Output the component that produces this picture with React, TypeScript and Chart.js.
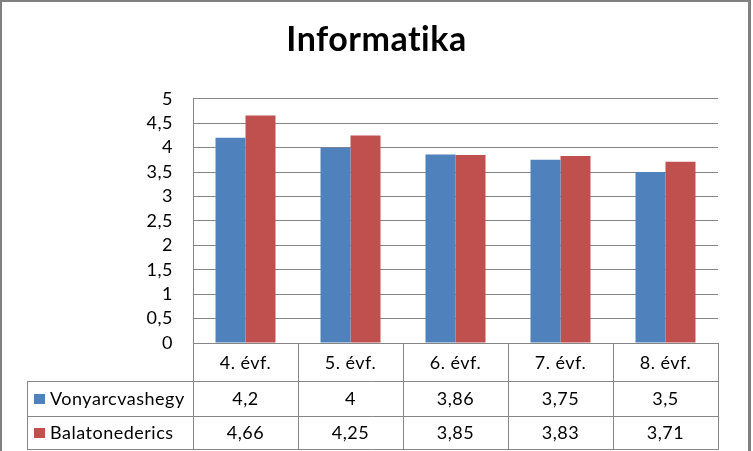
import React, { useEffect, useRef } from "react";
import { Chart, registerables } from "chart.js";

Chart.register(...registerables);

const TITLE = "Informatika";
const categories = ["4. évf.", "5. évf.", "6. évf.", "7. évf.", "8. évf."];
const seriesNames = ["Vonyarcvashegy", "Balatonederics"];
const vonyarcvashegy = [4.2, 4, 3.86, 3.75, 3.5];
const balatonederics = [4.66, 4.25, 3.85, 3.83, 3.71];
const seriesColors = ["#4F81BD", "#C0504D"];
const yMin = 0;
const yMax = 5;
const yStep = 0.5;

const FONT = "Lato, 'Open Sans', sans-serif";
const LINE = "#868686";
const TEXT_SIZE = 18;

const fmt = (v: number) => String(v).replace(".", ",");

const tablePlugin = {
  id: "dataTable",
  beforeDraw(chart: any) {
    const ctx = chart.ctx;
    ctx.fillStyle = "#ffffff";
    ctx.fillRect(0, 0, chart.width, chart.height);
    (ctx as any).letterSpacing = "0.5px";
  },
  afterDraw(chart: any) {
    const ctx = chart.ctx;
    const area = chart.chartArea;
    const n = categories.length;
    const cw = (area.right - area.left) / n;
    const rowTop = area.bottom;
    const row1 = rowTop + 38;
    const row2 = row1 + 35;
    const row3 = row2 + 33;
    const tableLeft = 27;
    const px = (v: number) => Math.round(v) + 0.5;

    ctx.save();
    ctx.strokeStyle = LINE;
    ctx.lineWidth = 1;
    ctx.beginPath();
    ctx.moveTo(area.left, px(rowTop));
    ctx.lineTo(area.right, px(rowTop));
    [row1, row2, row3].forEach((y) => {
      ctx.moveTo(tableLeft, px(y));
      ctx.lineTo(area.right + 0.5, px(y));
    });
    for (let i = 0; i <= n; i++) {
      const x = px(area.left + i * cw);
      ctx.moveTo(x, rowTop);
      ctx.lineTo(x, px(row3));
    }
    ctx.moveTo(px(tableLeft), row1);
    ctx.lineTo(px(tableLeft), px(row3));
    ctx.stroke();

    ctx.fillStyle = "#000";
    ctx.font = `${TEXT_SIZE}px ${FONT}`;
    ctx.textAlign = "center";
    ctx.textBaseline = "middle";
    const data = [vonyarcvashegy, balatonederics];
    for (let i = 0; i < n; i++) {
      const cx = chart.scales.x.getPixelForValue(i);
      ctx.fillText(categories[i], cx, (rowTop + row1) / 2 + 1);
      ctx.fillText(fmt(data[0][i]), cx, (row1 + row2) / 2 + 1);
      ctx.fillText(fmt(data[1][i]), cx, (row2 + row3) / 2 + 1);
    }
    const rows = [
      [row1, row2],
      [row2, row3],
    ];
    ctx.textAlign = "left";
    rows.forEach(([a, b], s) => {
      const cy = (a + b) / 2;
      ctx.fillStyle = seriesColors[s];
      ctx.fillRect(34, Math.round(cy - 5), 11, 10);
      ctx.fillStyle = "#000";
      ctx.fillText(seriesNames[s], 50, cy + 1);
    });

    ctx.fillStyle = "#808080";
    ctx.fillRect(0, 0, 2, chart.height);
    ctx.fillRect(0, 0, 751, 2);
    ctx.fillRect(748, 0, 3, chart.height);
    ctx.restore();
  },
};

export default function App() {
  const ref = useRef<HTMLCanvasElement | null>(null);
  useEffect(() => {
    if (!ref.current) return;
    const chart = new Chart(ref.current, {
      type: "bar",
      data: {
        labels: categories,
        datasets: [
          { label: seriesNames[0], data: vonyarcvashegy, backgroundColor: seriesColors[0] },
          { label: seriesNames[1], data: balatonederics, backgroundColor: seriesColors[1] },
        ],
      },
      options: {
        animation: false,
        responsive: false,
        devicePixelRatio: 1,
        layout: { padding: { top: 0, left: 0, right: 0, bottom: 108 } },
        datasets: { bar: { categoryPercentage: 60 / 105, barPercentage: 1 } },
        plugins: {
          legend: { display: false },
          tooltip: { enabled: false },
          title: {
            display: true,
            text: TITLE,
            color: "#000",
            font: { family: FONT, size: 34, weight: "bold" },
            padding: { top: 20, bottom: 38 },
          },
        },
        scales: {
          x: { display: false },
          y: {
            min: yMin,
            max: yMax,
            ticks: {
              stepSize: yStep,
              autoSkip: false,
              color: "#000",
              font: { family: FONT, size: TEXT_SIZE },
              padding: 20,
              callback: (v: any) => fmt(Number(v)),
            },
            grid: { color: LINE, drawTicks: false },
            border: { color: LINE },
            afterFit: (scale: any) => {
              scale.width = 193;
            },
          },
          yRight: {
            position: "right",
            display: true,
            min: yMin,
            max: yMax,
            grid: { display: false, drawTicks: false },
            border: { display: false },
            ticks: { display: false },
            afterFit: (scale: any) => {
              scale.width = 35;
            },
          },
        },
      },
      plugins: [tablePlugin],
    } as any);
    return () => chart.destroy();
  }, []);
  return (
    <div style={{ position: "fixed", left: 0, top: 0, width: 753, height: 451, background: "#fff" }}>
      <canvas ref={ref} width={753} height={451} style={{ display: "block" }} />
    </div>
  );
}
